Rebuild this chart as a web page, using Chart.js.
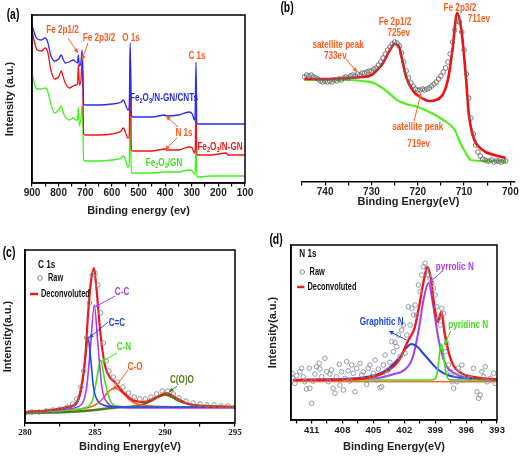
<!DOCTYPE html>
<html>
<head>
<meta charset="utf-8">
<script src="https://cdn.jsdelivr.net/npm/chart.js@4.4.1/dist/chart.umd.min.js"></script>
<style>
html, body { margin: 0; padding: 0; background: #fff; }
#page { position: relative; width: 520px; height: 457px; overflow: hidden; background: #fff; }
canvas { position: absolute; }
</style>
</head>
<body>
<div id="page">
<canvas id="chart-a" width="260" height="225" style="left:0;top:0"></canvas>
<canvas id="chart-b" width="260" height="225" style="left:260px;top:0"></canvas>
<canvas id="chart-c" width="260" height="232" style="left:0;top:225px"></canvas>
<canvas id="chart-d" width="260" height="232" style="left:260px;top:225px"></canvas>
</div>
<script>
// (a) survey spectra
const surveyEnergy = [900, 890, 880, 865, 850, 840, 830, 815, 800, 790, 785, 775, 760, 745, 735, 729, 726, 722, 716, 712, 709, 706, 700, 650, 600, 565, 557, 548, 540, 535, 531, 527, 520, 450, 400, 397, 350, 310, 298, 290, 287, 284, 281, 275, 230, 170, 165, 100];
const surveyCNT = [158, 149, 144, 143, 145, 140, 128, 122, 124, 128, 125, 120, 121, 123, 121, 120, 128, 117, 121, 133, 115, 79, 78, 78, 79, 81, 83, 78, 73, 75, 140, 68, 66, 66, 68, 67, 68, 71, 69, 63, 73, 121, 60, 59, 59, 59, 59, 59];
const surveyNGN = [153, 140, 133, 132, 135, 130, 114, 104, 106, 112, 108, 100, 95, 97, 98, 99, 118, 98, 103, 123, 95, 49, 48, 48, 49, 52, 55, 50, 45, 46, 135, 33, 32, 32, 34, 33, 33, 36, 35, 30, 33, 80, 28, 28, 28, 30, 28, 28];
const surveyGN = [111, 98, 94, 94, 95, 91, 80, 70, 73, 77, 72, 66, 63, 65, 63, 63, 76, 57, 65, 78, 58, 23, 22, 22, 23, 25, 27, 23, 16, 18, 75, 10, 10, 10, 11, 11, 11, 13, 12, 9, 11, 55, 6, 6, 7, 7, 7, 7];

// (b) Fe 2p
const feRawEnergy = [744.5, 744, 743.5, 743, 742.5, 742, 741.5, 741, 740.5, 740,
  739.5, 739, 738.5, 738, 737.5, 737, 736.5, 736, 735.5, 735,
  734.5, 734, 733.5, 733, 732.5, 732, 731.5, 731, 730.5, 730,
  729.5, 729, 728.5, 728, 727.5, 727, 726.5, 726, 725.5, 725,
  724.5, 724, 723.5, 723, 722.5, 722, 721.5, 721, 720.5, 720,
  719.5, 719, 718.5, 718, 717.5, 717, 716.5, 716, 715.5, 715,
  714.5, 714, 713.5, 713, 712.5, 712, 711.5, 711, 710.5, 710,
  709.5, 709, 708.5, 708, 707.5, 707, 706.5, 706, 705.5, 705,
  704.5, 704, 703.5, 703, 702.5, 702, 701.5, 701];
const feRaw = [105, 107, 106, 107, 105, 104, 103, 101, 100, 101,
  100, 101, 100, 102, 101, 103, 102, 104, 105, 104,
  106, 107, 106, 108, 107, 109, 109, 110, 111, 111,
  113, 114, 117, 120, 124, 128, 132, 135, 138, 140,
  139, 136, 129, 120, 111, 104, 99, 96, 93, 92,
  92, 93, 92, 93, 94, 96, 98, 100, 103, 106,
  110, 114, 120, 128, 140, 152, 161, 160, 150, 132,
  108, 84, 64, 48, 37, 30, 26, 23, 22, 21,
  21, 22, 20, 21, 21, 20, 21, 21];
const feFitEnergy = [744.5, 740, 735, 732, 730, 729, 727.5, 726, 725, 724, 723.5, 722.5, 721, 719.5, 717.5, 715, 713.5, 712.5, 711.5, 710.5, 709.5, 709, 708, 706, 703.5, 701];
const feFit = [103, 103, 104, 105, 107, 111, 119, 132, 138, 135, 125, 105, 91, 85, 81, 85, 102, 132, 169, 149, 99, 69, 45, 32, 27, 24];
const feBgEnergy = [744.5, 735, 732, 729.5, 726.5, 724.5, 722.5, 720, 717.5, 714.5, 712, 711, 709.5, 708.5, 705, 701];
const feBg = [102, 102, 101, 99, 90, 82, 78, 75, 70, 62, 52, 41, 28, 22, 21, 21];

// (c) C 1s
const c1sRawEnergy = [280, 280.5, 281, 281.5, 282, 282.5, 283, 283.4, 283.7, 284, 284.2, 284.4, 284.6, 284.8, 285, 285.2, 285.4, 285.6, 285.8, 286, 286.3, 286.6, 287, 287.4, 287.8, 288.2, 288.6, 289, 289.4, 289.8, 290.2, 290.6, 291, 291.5, 292, 292.5, 293, 293.5, 294, 294.5, 295];
const c1sRaw = [10, 11, 11, 12, 13, 14, 16, 19, 24, 36, 52, 85, 120, 148, 150, 138, 110, 80, 62, 52, 46, 41, 36, 30, 26, 24, 24, 26, 29, 32, 32, 29, 25, 22, 20, 19, 18, 18, 17, 17, 16];
const c1sFitEnergy = [280, 281.8, 283, 283.7, 284.05, 284.3, 284.5, 284.7, 284.93, 285.1, 285.4, 285.7, 286.1, 286.4, 287, 287.7, 288.5, 289.4, 290.1, 290.8, 291.5, 292.5, 295];
const c1sFit = [11, 13, 16, 21, 38, 65, 108, 140, 155, 135, 88, 58, 45, 41, 31, 23, 21, 26, 30, 25, 20, 17, 16];
const cdcEnergy = [280, 282, 283, 283.8, 284.1, 284.35, 284.5, 284.65, 284.9, 285.2, 285.6, 286.5, 290, 295];
const cdc = [11, 13, 15, 22, 40, 70, 86, 70, 35, 22, 18, 16, 16, 16];
const ccEnergy = [280, 283, 284, 284.4, 284.7, 284.95, 285.2, 285.5, 285.9, 286.5, 288, 295];
const cc = [11, 14, 18, 35, 80, 118, 80, 35, 20, 16, 15, 15];
const cnEnergy = [280, 283, 284.2, 284.8, 285.1, 285.4, 285.7, 286.1, 286.6, 288, 295];
const cn = [11, 13, 15, 22, 42, 63, 42, 22, 17, 16, 16];
const coEnergy = [280, 284, 285, 285.6, 286, 286.4, 286.9, 287.4, 288, 289, 290, 295];
const co = [11, 14, 18, 25, 32, 35, 31, 24, 19, 17, 16.5, 16];
const cooEnergy = [280, 283, 285, 286.5, 288, 289, 289.5, 290, 290.5, 291, 292, 293, 295];
const coo = [10, 11, 13, 15.5, 17, 22, 26, 28.5, 26, 22, 18, 17, 16];

// (d) N 1s
const n1sRawEnergy = [412.9, 412.79, 412.63, 412.46, 412.14, 411.98, 411.81, 411.65, 411.49, 411.23,
  411.17, 411.0, 410.84, 410.68, 410.52, 410.26, 410.19, 410.03, 409.71, 409.55,
  409.38, 409.22, 409.06, 408.9, 408.73, 408.57, 408.31, 408.25, 408.09, 407.92,
  407.76, 407.6, 407.44, 407.28, 407.11, 406.95, 406.79, 406.63, 406.3, 406.14,
  405.98, 405.65, 405.49, 405.33, 405.17, 405.0, 404.84, 404.68, 404.52, 404.36,
  404.2, 404.03, 403.87, 403.71, 403.55, 403.39, 403.22, 403.06, 402.9, 402.74,
  402.57, 402.41, 402.25, 402.09, 401.93, 401.76, 401.6, 401.44, 401.28, 401.11,
  400.95, 400.79, 400.63, 400.47, 400.3, 400.14, 399.98, 399.82, 399.66, 399.49,
  399.33, 399.17, 399.01, 398.85, 398.68, 398.52, 398.36, 398.2, 398.03, 397.87,
  397.71, 397.55, 397.39, 397.22, 397.06, 396.9, 396.74, 396.57, 396.41, 396.25,
  395.93, 395.6, 395.28, 394.95, 394.79, 394.63, 394.47, 394.3, 394.14, 393.98,
  393.66, 393.33, 393.17];
const n1sRaw = [46.7, 41.7, 36.7, 44.3, 48.3, 51.7, 43.3, 38.3, 31, 51.7,
  31.7, 16.7, 39, 46, 53.3, 56.7, 51, 43.3, 61.7, 48.3,
  38.3, 46, 50, 31.7, 26.7, 43.3, 55.7, 35, 48.3, 30,
  41.7, 58.3, 49.3, 39, 55, 46.7, 28.3, 51.7, 56.7, 45,
  48.3, 35.7, 51.7, 55, 43.3, 46.7, 60, 40, 51, 32.3,
  33.3, 55, 65, 45.7, 50, 57.7, 78.3, 68.3, 77.7, 73.3,
  85, 63.3, 90, 95, 66.7, 85, 113.3, 95, 111.7, 105,
  115, 105, 135, 128.3, 145, 153.3, 156.7, 151.7, 145, 141.7,
  136.7, 131.7, 125, 113.3, 101.7, 95, 111.7, 106.7, 68.3, 76.7,
  55, 48.3, 38.3, 31.7, 45, 38.3, 51.7, 46.7, 55, 40,
  43.3, 41.7, 51.7, 28.3, 21.7, 25, 48.3, 43.3, 53.3, 38.3,
  41.7, 46.7, 36.7];
const n1sFitEnergy = [412.8, 408, 406, 404.5, 403.5, 402.5, 401.6, 401, 400.5, 400.1, 399.75, 399.4, 399.1, 398.75, 398.4, 398.1, 397.7, 397.2, 396.5, 395, 393];
const n1sFit = [40, 40.5, 41.5, 45, 50, 60, 80, 92, 117, 140, 153, 140, 115, 98, 108, 88, 68, 54, 47, 42.5, 40.5];
const pyrrolicEnergy = [412.8, 406, 404, 403, 402, 401.2, 400.6, 400.1, 399.65, 399.2, 398.8, 398.4, 397.9, 397, 395.5, 393];
const pyrrolic = [40, 41, 43, 46, 50, 62, 90, 122, 137, 115, 88, 68, 54, 46, 42, 40];
const graphiticEnergy = [412.8, 408, 406, 404.5, 403.5, 402.5, 401.9, 401.3, 400.7, 400.2, 399.6, 398.8, 397.8, 396, 393];
const graphitic = [40, 41, 42.5, 46, 52, 62, 71, 76, 73, 67, 60, 51, 45, 41.5, 40];
const pyridinicEnergy = [412.8, 399.5, 399, 398.8, 398.6, 398.4, 398.2, 398, 397.8, 397.5, 393];
const pyridinic = [40, 40, 41, 48, 64, 76, 66, 50, 42, 40, 40];
const n1sBgEnergy = [412.8, 393];
const n1sBg = [38.5, 38.3];

const FONT = '"Liberation Sans", Arial, sans-serif';
const ORANGE = '#ff5c1c', PURPLE = '#a83cf0', BLUE = '#1e46ec', GREEN = '#3ee01a', OLIVE = '#4d7a1c';
Chart.defaults.font.family = FONT;
Chart.defaults.animation = false;

function points(xs, ys) {
	return xs.map((x, i) => ({x: x, y: ys[i]}));
}

function curve(label, xs, ys, color, width) {
	return {label: label, data: points(xs, ys), showLine: true, borderColor: color, borderWidth: width,
		pointRadius: 0, cubicInterpolationMode: 'monotone', fill: false};
}

function rawPoints(label, xs, ys, color) {
	return {label: label, data: points(xs, ys), showLine: false, pointStyle: 'circle', pointRadius: 2.3,
		borderColor: color, borderWidth: 0.9, backgroundColor: 'rgba(0,0,0,0)'};
}

// '_' marks the next character as a subscript
function drawLabel(ctx, text, x, y, color, size, align) {
	const parts = [];
	for (let i = 0; i < text.length; i++) {
		if (text[i] === '_') { parts.push({t: text[i + 1], sub: true}); i++; }
		else if (parts.length && !parts[parts.length - 1].sub) parts[parts.length - 1].t += text[i];
		else parts.push({t: text[i], sub: false});
	}
	const sx = 0.74;
	ctx.save();
	ctx.fillStyle = color;
	ctx.textBaseline = 'middle';
	let w = 0;
	parts.forEach(p => {
		ctx.font = `bold ${p.sub ? size * 0.7 : size}px ${FONT}`;
		p.w = ctx.measureText(p.t).width;
		w += p.w;
	});
	const startX = align === 'left' ? x : x - w * sx / 2;
	ctx.translate(startX, y);
	ctx.scale(sx, 1);
	let cx = 0;
	parts.forEach(p => {
		ctx.font = `bold ${p.sub ? size * 0.7 : size}px ${FONT}`;
		ctx.fillText(p.t, cx, p.sub ? size * 0.3 : 0);
		cx += p.w;
	});
	ctx.restore();
}

function drawArrow(ctx, x1, y1, x2, y2, color) {
	ctx.save();
	ctx.strokeStyle = color;
	ctx.fillStyle = color;
	ctx.lineWidth = 1;
	ctx.beginPath(); ctx.moveTo(x1, y1); ctx.lineTo(x2, y2); ctx.stroke();
	const a = Math.atan2(y2 - y1, x2 - x1), L = 5;
	ctx.beginPath();
	ctx.moveTo(x2, y2);
	ctx.lineTo(x2 - L * Math.cos(a - 0.45), y2 - L * Math.sin(a - 0.45));
	ctx.lineTo(x2 - L * Math.cos(a + 0.45), y2 - L * Math.sin(a + 0.45));
	ctx.closePath();
	ctx.fill();
	ctx.restore();
}

// annotations in data coordinates: [energy, intensity, text, colour, align, size]
const notes = {
	'chart-a': {
		panel: [13, 15], name: '(a)', frame: true,
		texts: [
			[785.4, 153, 'Fe 2p1/2', ORANGE], [648.4, 145, 'Fe 2p3/2', ORANGE],
			[528.2, 145, 'O 1s', ORANGE], [280.3, 127, 'C 1s', ORANGE],
			[404.2, 85, 'Fe_2O_3/N-GN/CNTs', '#2b2bdc'], [329.1, 50, 'N 1s', ORANGE],
			[193.9, 36, 'Fe_2O_3/N-GN', '#ee1c1c'], [404.2, 20, 'Fe_2O_3/GN', GREEN]
		],
		arrows: [
			[764.8, 145, 727.2, 130, ORANGE], [689.7, 140, 712.2, 123, ORANGE],
			[351.6, 56, 396.7, 67, ORANGE], [355.4, 45, 400.5, 33, ORANGE]
		]
	},
	'chart-b': {
		panel: [27, 8], name: '(b)', frame: false,
		texts: [
			[710.9, 174, 'Fe 2p3/2', ORANGE], [706.8, 163, '711ev', ORANGE],
			[724.9, 160, 'Fe 2p1/2', ORANGE], [724.1, 149, '725ev', ORANGE],
			[737.2, 137, 'satellite peak', ORANGE], [737.8, 126, '733ev', ORANGE],
			[720.0, 55, 'satellite peak', ORANGE], [719.8, 38, '719ev', ORANGE]
		],
		arrows: [[735.5, 123, 733.1, 110, ORANGE], [720.8, 61, 719.3, 89, ORANGE]]
	},
	'chart-c': {
		panel: [9, 28], name: '(c)', frame: true,
		texts: [
			[280.93, 158, 'C 1s', '#111', 'left'], [281.64, 145, 'Raw', '#111', 'left', 10],
			[281.14, 129, 'Deconvoluted', '#111', 'left', 10],
			[286.93, 131, 'C-C', PURPLE], [286.57, 100, 'C=C', BLUE], [287.07, 76, 'C-N', GREEN],
			[287.86, 56, 'C-O', ORANGE], [291.21, 43, 'C(O)O', OLIVE]
		],
		arrows: [
			[286.43, 127, 285.0, 116, PURPLE], [285.93, 101, 284.57, 85, BLUE],
			[286.57, 70, 285.43, 61, GREEN], [287.36, 53, 286.29, 33, ORANGE],
			[290.86, 37, 290.29, 31, OLIVE]
		],
		marker: [281.07, 145, '#888'], line: [280.36, 280.93, 129]
	},
	'chart-d': {
		panel: [16, 15], name: '(d)', frame: true,
		texts: [
			[412.2, 166, 'N 1s', '#111', 'left'], [411.2, 148, 'Raw', '#111', 'left', 10],
			[411.4, 133, 'Deconvoluted', '#111', 'left', 10],
			[397.1, 153, 'pyrrolic N', PURPLE], [404.2, 98, 'Graphitic N', BLUE],
			[395.8, 95, 'pyridinc N', GREEN]
		],
		arrows: [
			[398.4, 148, 399.6, 137, PURPLE], [401.8, 80, 403.5, 89, BLUE],
			[397.5, 89, 398.1, 75, GREEN]
		],
		marker: [411.9, 148, '#8a90a8'], line: [412.4, 411.7, 133]
	}
};

Chart.register({
	id: 'notes',
	afterDraw(chart) {
		const n = notes[chart.canvas.id];
		if (!n) return;
		const ctx = chart.ctx, xs = chart.scales.x, ys = chart.scales.y;
		const px = e => xs.getPixelForValue(e), py = v => ys.getPixelForValue(v);
		if (n.frame) {
			const a = chart.chartArea;
			ctx.save();
			ctx.strokeStyle = '#000';
			ctx.lineWidth = 1.5;
			ctx.strokeRect(a.left, a.top, a.right - a.left, a.bottom - a.top);
			ctx.restore();
		}
		n.arrows.forEach(a => drawArrow(ctx, px(a[0]), py(a[1]), px(a[2]), py(a[3]), a[4]));
		n.texts.forEach(t => drawLabel(ctx, t[2], px(t[0]), py(t[1]), t[3], t[5] || 11, t[4] || 'center'));
		if (n.marker) {
			ctx.save();
			ctx.strokeStyle = n.marker[2];
			ctx.lineWidth = 1;
			ctx.beginPath();
			ctx.arc(px(n.marker[0]), py(n.marker[1]), 2.3, 0, Math.PI * 2);
			ctx.stroke();
			ctx.restore();
		}
		if (n.line) {
			ctx.save();
			ctx.strokeStyle = '#f01818';
			ctx.lineWidth = 2.5;
			ctx.beginPath();
			ctx.moveTo(px(n.line[0]), py(n.line[2]));
			ctx.lineTo(px(n.line[1]), py(n.line[2]));
			ctx.stroke();
			ctx.restore();
		}
		drawLabel(ctx, n.name, n.panel[0], n.panel[1], '#000', 14, 'center');
	}
});

function xAxis(opts) {
	return {
		type: 'linear', reverse: opts.reverse, min: opts.min, max: opts.max,
		afterFit: s => { s.height = opts.height; },
		border: {display: true, color: '#000', width: 1.5},
		grid: {display: true, drawOnChartArea: false, drawTicks: true, tickLength: 3.5, color: '#000', lineWidth: 1.2},
		ticks: {
			stepSize: opts.step, includeBounds: false, padding: 1, autoSkip: false, maxRotation: 0,
			color: '#222', font: {family: opts.tickFamily || FONT, size: opts.tickSize || 10, weight: 'bold'},
			callback: opts.label
		},
		title: {display: true, text: opts.title, color: '#222', font: {size: 11, weight: 'bold'},
			padding: {top: 0, bottom: opts.titlePad}}
	};
}

function yAxis(opts) {
	return {
		type: 'linear', min: 0, max: opts.max, display: opts.display !== false,
		afterFit: s => { s.width = opts.width; },
		border: {display: true, color: '#000', width: 1.5},
		grid: {display: false},
		ticks: {display: false},
		title: {display: true, text: opts.title, color: '#222', font: {size: 11, weight: 'bold'},
			padding: {top: opts.titlePad, bottom: 0}}
	};
}

function baseOptions(padding, scales) {
	return {
		responsive: false,
		animation: false,
		layout: {autoPadding: false, padding: padding},
		plugins: {legend: {display: false}, tooltip: {enabled: false}},
		events: [],
		scales: scales
	};
}

new Chart('chart-a', {
	type: 'scatter',
	data: {datasets: [
		curve('Fe2O3/N-GN/CNTs', surveyEnergy, surveyCNT, '#2b2bf5', 1.3),
		curve('Fe2O3/N-GN', surveyEnergy, surveyNGN, '#f41414', 1.3),
		curve('Fe2O3/GN', surveyEnergy, surveyGN, '#3df51d', 1.3)
	]},
	options: baseOptions({left: 0, top: 15, right: 15, bottom: 0}, {
		x: xAxis({min: 100, max: 900, reverse: true, height: 42, step: 50, titlePad: 7.4,
			title: 'Binding energy (ev)', label: v => v % 100 === 0 ? v : ''}),
		y: yAxis({max: 168, width: 32, title: 'Intensity (a.u.)', titlePad: 3.4})
	})
});

new Chart('chart-b', {
	type: 'scatter',
	data: {datasets: [
		rawPoints('Raw', feRawEnergy, feRaw, '#6b6b6b'),
		curve('Fit', feFitEnergy, feFit, '#f01010', 2.6),
		curve('Background', feBgEnergy, feBg, '#55ee22', 2.2)
	]},
	options: baseOptions({left: 42, top: 10, right: 5, bottom: 0}, {
		x: xAxis({min: 699, max: 745, reverse: true, height: 43, step: 5, titlePad: 16,
			title: 'Binding Energy(eV)', label: v => v % 10 === 0 ? v : ''}),
		y: yAxis({max: 172, width: 0, title: '', titlePad: 0, display: false})
	})
});

new Chart('chart-c', {
	type: 'scatter',
	data: {datasets: [
		rawPoints('Raw', c1sRawEnergy, c1sRaw, '#8a8a8a'),
		curve('Deconvoluted', c1sFitEnergy, c1sFit, '#f01818', 2.2),
		curve('C=C', cdcEnergy, cdc, BLUE, 1.6),
		curve('C-C', ccEnergy, cc, PURPLE, 1.6),
		curve('C-N', cnEnergy, cn, GREEN, 1.6),
		curve('C-O', coEnergy, co, ORANGE, 1.6),
		curve('C(O)O', cooEnergy, coo, OLIVE, 2.4)
	]},
	options: baseOptions({left: 0, top: 25, right: 25, bottom: 0}, {
		x: xAxis({min: 280, max: 295, reverse: false, height: 34, step: 2.5, titlePad: 3.4,
			tickFamily: '"Liberation Serif", "Times New Roman", serif', tickSize: 9,
			title: 'Binding Energy(eV)', label: v => v % 5 === 0 ? v : ''}),
		y: yAxis({max: 173, width: 25, title: 'Intensity(a.u.)', titlePad: 1.4})
	})
});

new Chart('chart-d', {
	type: 'scatter',
	data: {datasets: [
		rawPoints('Raw', n1sRawEnergy, n1sRaw, '#8a90a8'),
		curve('Deconvoluted', n1sFitEnergy, n1sFit, '#f01818', 2.4),
		curve('pyridinic N', pyridinicEnergy, pyridinic, GREEN, 1.6),
		curve('Graphitic N', graphiticEnergy, graphitic, '#1a44e6', 2),
		curve('pyrrolic N', pyrrolicEnergy, pyrrolic, PURPLE, 2),
		curve('Background', n1sBgEnergy, n1sBg, '#ff6a2a', 1.5)
	]},
	options: baseOptions({left: 0, top: 20, right: 23, bottom: 0}, {
		x: xAxis({min: 393, max: 413, reverse: true, height: 37, step: 1.5, titlePad: 3.4, tickSize: 9.5,
			title: 'Binding Energy(eV)',
			label: v => Math.abs((v - 393) / 3 - Math.round((v - 393) / 3)) < 1e-6 ? Math.round(v) : ''}),
		y: yAxis({max: 175, width: 31, title: 'Intensity(a.u.)', titlePad: 6.4})
	})
});
</script>
</body>
</html>
